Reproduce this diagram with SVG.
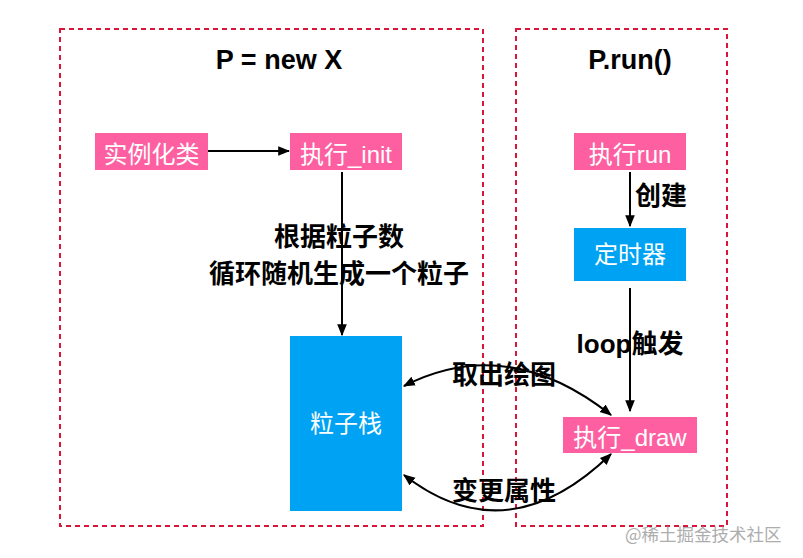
<svg xmlns="http://www.w3.org/2000/svg" width="803" height="558" viewBox="0 0 803 558">
<style>
.frame{fill:none;stroke:#d9163a;stroke-width:2;stroke-dasharray:5,4}
.pink{fill:#fd5fa1}
.blue{fill:#00a3f3}
.nt{font-family:"Liberation Sans","Noto Sans CJK SC",sans-serif;font-size:24px;fill:#fff;text-anchor:middle}
.title{font-family:"Liberation Sans","Noto Sans CJK SC",sans-serif;font-size:27px;font-weight:bold;fill:#000;text-anchor:middle}
.lbl{font-family:"Liberation Sans","Noto Sans CJK SC",sans-serif;font-size:26px;font-weight:bold;fill:#000;text-anchor:middle}
.edge{fill:none;stroke:#000;stroke-width:2}
.wm{font-family:"Noto Sans CJK SC",sans-serif;font-size:17.5px;fill:#999;opacity:0.8}
</style>
<defs>
<marker id="ahb" viewBox="0 0 10 10" refX="9" refY="5" markerWidth="12" markerHeight="12" orient="auto-start-reverse" markerUnits="userSpaceOnUse">
<path d="M0,1 L10,5 L0,9 z" fill="#000"/>
</marker>
</defs>
<rect width="803" height="558" fill="#fff"/>
<g id="frame-left"><rect class="frame" x="60" y="29" width="423" height="497"/><text class="title" x="279" y="69">P = new X</text></g>
<g id="frame-right"><rect class="frame" x="516" y="29" width="211" height="497"/><text class="title" x="630" y="69">P.run()</text></g>
<g id="connectors">
<line class="edge" x1="208" y1="151" x2="289" y2="151" marker-end="url(#ahb)"/>
<line class="edge" x1="342" y1="172" x2="342" y2="335" marker-end="url(#ahb)"/>
<line class="edge" x1="630" y1="172" x2="630" y2="226" marker-end="url(#ahb)"/>
<line class="edge" x1="630" y1="288" x2="630" y2="411" marker-end="url(#ahb)"/>
<path class="edge" d="M404,386 Q507,333 611,415" marker-start="url(#ahb)" marker-end="url(#ahb)"/>
<path class="edge" d="M404,475 Q507,555 611,454" marker-start="url(#ahb)" marker-end="url(#ahb)"/>
<text class="lbl" x="339" y="246">根据粒子数</text>
<text class="lbl" x="339" y="283">循环随机生成一个粒子</text>
<text class="lbl" x="661" y="205">创建</text>
<text class="lbl" x="630" y="353">loop触发</text>
<text class="lbl" x="504" y="384">取出绘图</text>
<text class="lbl" x="504" y="500">变更属性</text>
</g>
<g id="n-instantiate"><rect class="pink" x="95" y="133" width="113" height="37"/><text class="nt" x="151.5" y="163">实例化类</text></g>
<g id="n-init"><rect class="pink" x="290" y="133" width="112" height="37"/><text class="nt" x="346" y="163">执行_init</text></g>
<g id="n-stack"><rect class="blue" x="290" y="336" width="112" height="175"/><text class="nt" x="346" y="432">粒子栈</text></g>
<g id="n-run"><rect class="pink" x="574" y="133" width="112" height="37"/><text class="nt" x="630" y="163">执行run</text></g>
<g id="n-timer"><rect class="blue" x="574" y="228" width="112" height="53"/><text class="nt" x="630" y="263">定时器</text></g>
<g id="n-draw"><rect class="pink" x="563" y="417" width="134" height="36"/><text class="nt" x="630" y="446">执行_draw</text></g>
<text class="wm" x="625" y="541">@稀土掘金技术社区</text>
</svg>
